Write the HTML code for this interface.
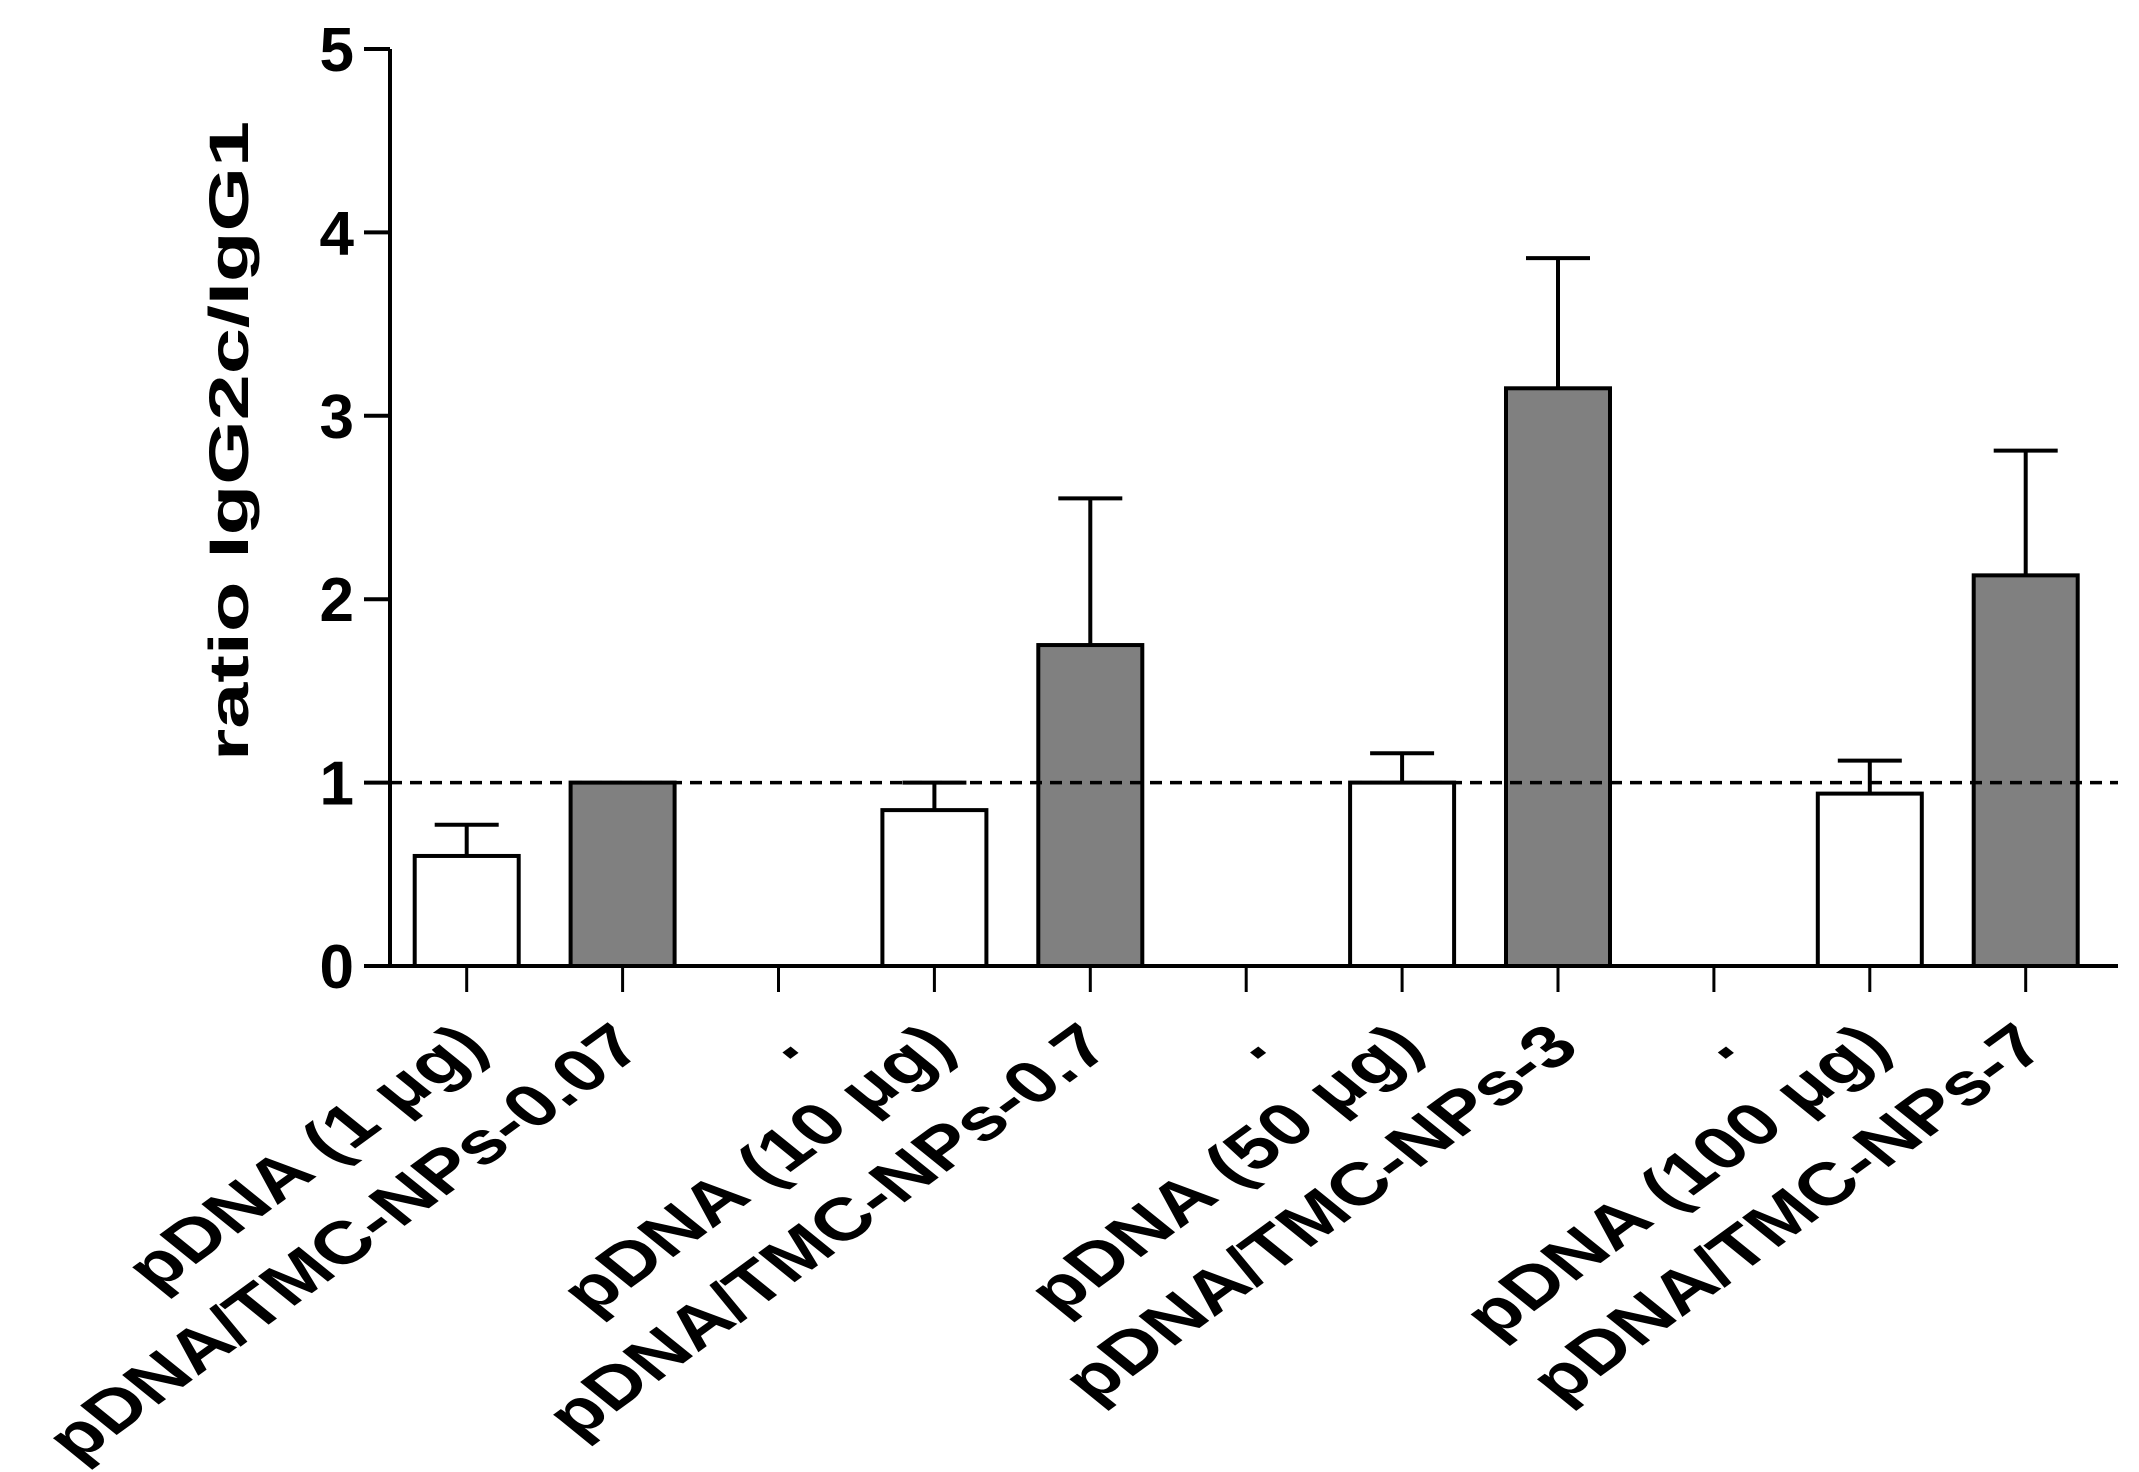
<!DOCTYPE html>
<html><head><meta charset="utf-8"><style>
html,body{margin:0;padding:0;background:#fff;}
svg{display:block;font-family:"Liberation Sans",Arial,sans-serif;font-weight:bold;}
</style></head><body>
<svg id="chart" width="2139" height="1472" viewBox="0 0 2139 1472" xmlns="http://www.w3.org/2000/svg">
<text transform="translate(248,441) rotate(-90) scale(1.48,1)" text-anchor="middle" font-size="56">ratio IgG2c/IgG1</text>
<g id="plot"></g>
</svg>
<script>
const categories = ["pDNA (1 \u03bcg)","pDNA/TMC-NPs-0.07",".","pDNA (10 \u03bcg)","pDNA/TMC-NPs-0.7",".","pDNA (50 \u03bcg)","pDNA/TMC-NPs-3",".","pDNA (100 \u03bcg)","pDNA/TMC-NPs-7"];
const values = [0.6, 1.0, null, 0.85, 1.75, null, 1.0, 3.15, null, 0.94, 2.13];
const errors = [0.77, 1.0, null, 1.0, 2.55, null, 1.16, 3.86, null, 1.12, 2.81];
const fills = ["#fff","#808080",null,"#fff","#808080",null,"#fff","#808080",null,"#fff","#808080"];
const yTicks = [0,1,2,3,4,5];
const refValue = 1;

const NS="http://www.w3.org/2000/svg";
const g=document.getElementById('plot');
const x0=390, xEnd=2118, y0=966, y5=49;
const yS=v=>y0-(v/5)*(y0-y5);
const xS=i=>466.7+i*155.9;
const bw=104;
function mk(tag,attrs){const e=document.createElementNS(NS,tag);for(const k in attrs)e.setAttribute(k,attrs[k]);g.appendChild(e);return e;}

values.forEach((v,i)=>{
  if(v===null)return;
  const cx=xS(i);
  const b=mk('rect',{x:cx-bw/2,y:yS(v),width:bw,height:y0-yS(v),fill:fills[i],stroke:'#000','stroke-width':4});
  
  
  if(errors[i]!==null && errors[i]>v){
    const e=mk('path',{d:`M${cx},${yS(v)}V${yS(errors[i])}M${cx-32},${yS(errors[i])}H${cx+32}`,stroke:'#000','stroke-width':4,fill:'none'});
    
    
  }
});
const rl=mk('line',{x1:x0,x2:xEnd,y1:yS(refValue),y2:yS(refValue),stroke:'#000','stroke-width':3.5,'stroke-dasharray':'12 8'});


const ya=mk('path',{d:`M${x0},${yS(5)}V${y0}`,stroke:'#000','stroke-width':4,fill:'none'});


yTicks.forEach(t=>{
  const tk=mk('line',{x1:x0-26,x2:x0,y1:yS(t),y2:yS(t),stroke:'#000','stroke-width':4});
  
  
  const tl=mk('text',{x:x0-36,y:yS(t)+22,'text-anchor':'end','font-size':62});
  tl.textContent=t;
  
  
});
const xa=mk('path',{d:`M${x0-26},${y0}H${xEnd}`,stroke:'#000','stroke-width':4,fill:'none'});


categories.forEach((c,i)=>{
  const cx=xS(i);
  const tk=mk('line',{x1:cx,x2:cx,y1:y0,y2:y0+26,stroke:'#000','stroke-width':3});
  
  
  const tl=mk('text',{transform:`translate(${cx+24},${y0+84}) rotate(-36) skewX(15) scale(1.2,1.1)`,'text-anchor':'end','font-size':60});
  tl.textContent=c;
  
  
});
</script>
</body></html>
